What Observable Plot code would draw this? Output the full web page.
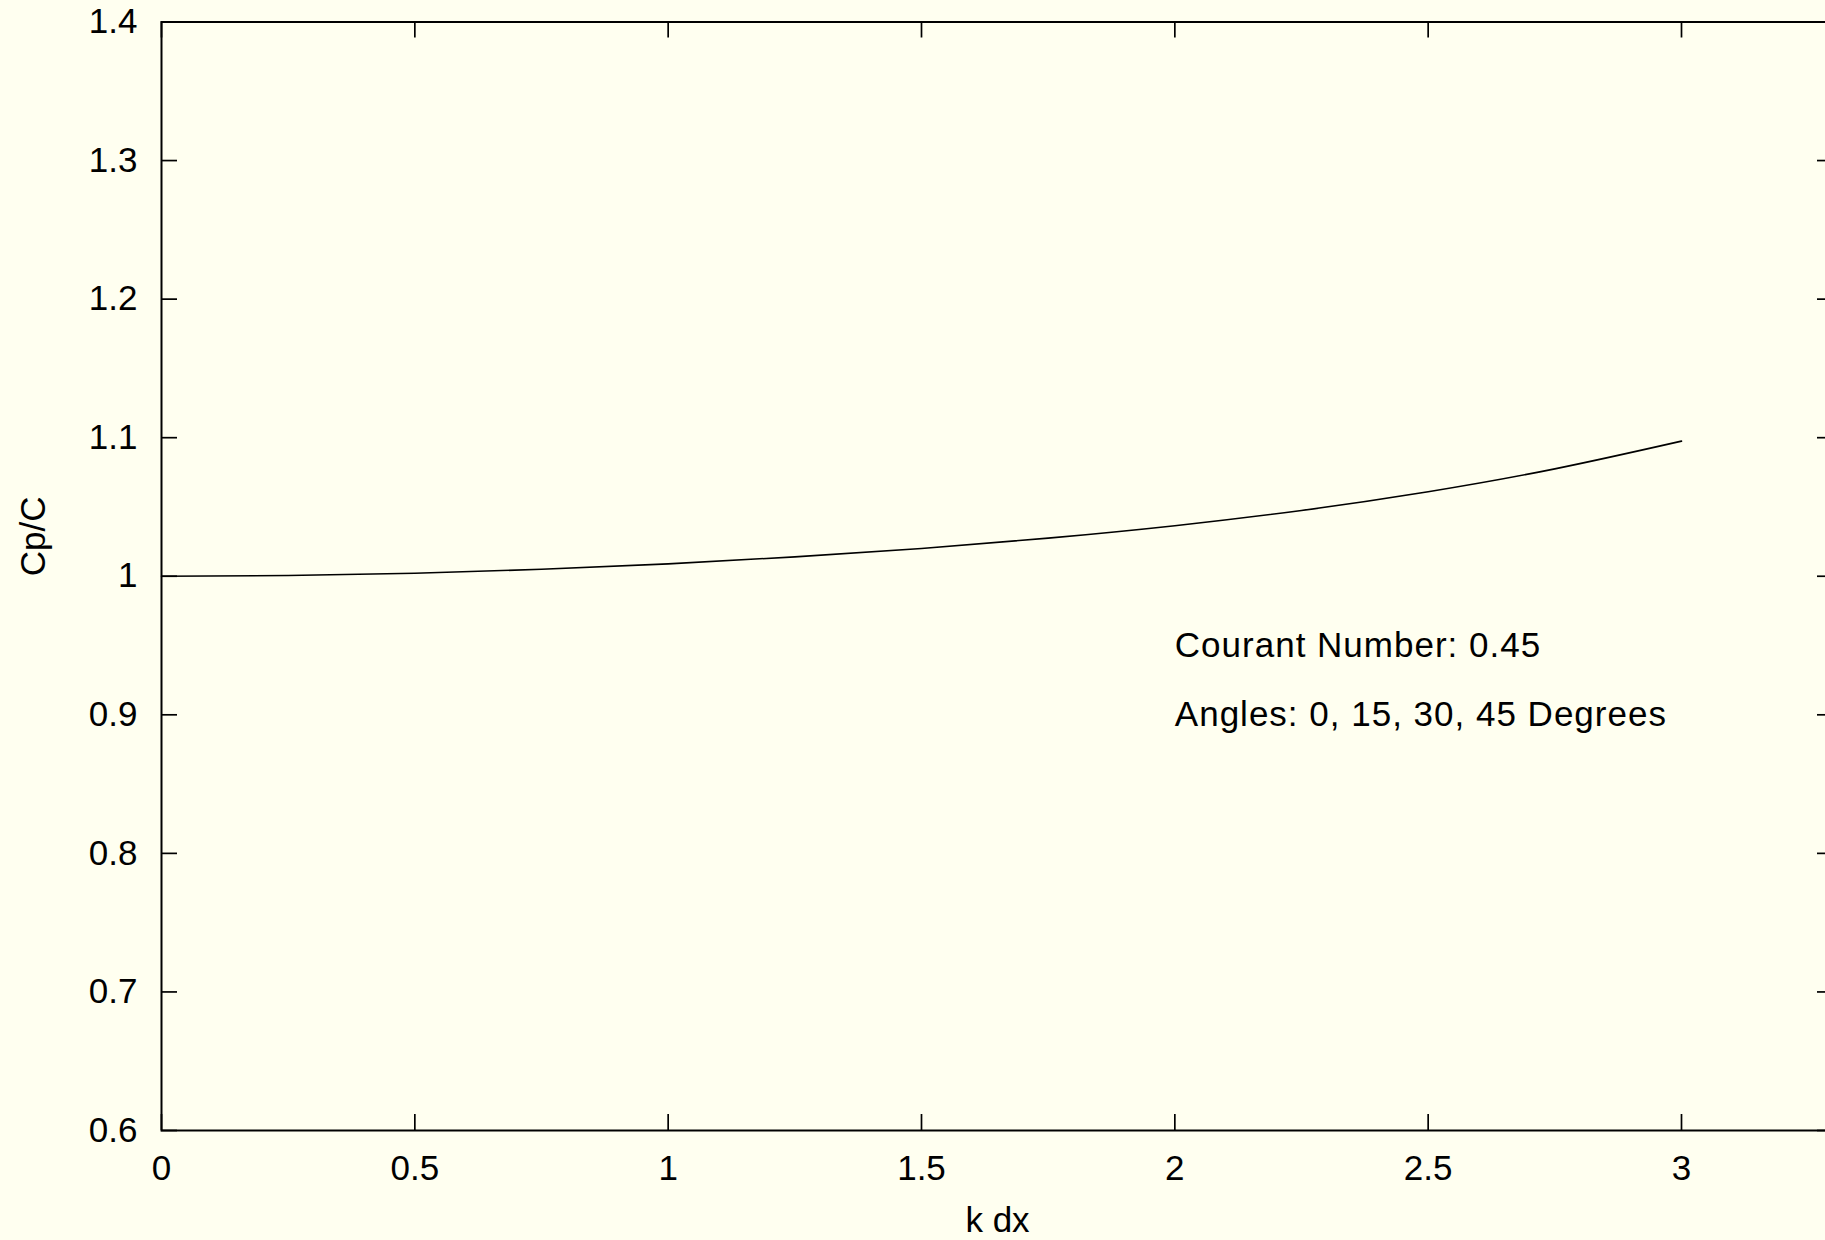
<!DOCTYPE html>
<html>
<head>
<meta charset="utf-8">
<script src="https://cdn.jsdelivr.net/npm/d3@7"></script>
<script src="https://cdn.jsdelivr.net/npm/@observablehq/plot@0.6"></script>
<style>
  html, body { margin: 0; padding: 0; background: #fffff0; overflow: hidden; width: 1825px; height: 1240px; }
  #chart { width: 1825px; height: 1240px; overflow: hidden; }
  #chart svg { display: block; max-width: none !important; }
  .note text { letter-spacing: 1px; }
</style>
</head>
<body>
<div id="chart"></div>
<script>
// Data
const kdx  = [0, 0.25, 0.5, 0.75, 1.0, 1.25, 1.5, 1.75, 2.0, 2.25, 2.5, 2.75, 3.0];
const cpc  = [1.0, 1.0005, 1.0022, 1.005, 1.0089, 1.014, 1.02, 1.0275, 1.0365, 1.0475, 1.061, 1.0775, 1.0975];
const xTicks = [0, 0.5, 1, 1.5, 2, 2.5, 3];
const yTicks = [0.6, 0.7, 0.8, 0.9, 1.0, 1.1, 1.2, 1.3, 1.4];
const xLabel = "k dx";
const yLabel = "Cp/C";
const noteX = [2.0, 2.0];
const noteY = [0.95, 0.90];
const noteText = ["Courant Number: 0.45", "Angles: 0, 15, 30, 45 Degrees"];

const rows = kdx.map((x, i) => ({x, y: cpc[i]}));
const notes = noteText.map((t, i) => ({x: noteX[i], y: noteY[i], t}));

const W = 1833, H = 1240, mL = 161, mR = 0, mT = 21.5, mB = 110;
const fw = W - mL - mR, fh = H - mT - mB, tk = 16;

const chart = Plot.plot({
  width: W, height: H,
  marginLeft: mL, marginRight: mR, marginTop: mT, marginBottom: mB,
  x: {domain: [0, 3.3]},
  y: {domain: [0.6, 1.4]},
  style: {background: "#fffff0", fontFamily: "'Liberation Sans', Arial, sans-serif", fontSize: "35px", color: "black", maxWidth: "none"},
  marks: [
    Plot.axisX({ticks: xTicks, tickSize: 0, tickPadding: 25, label: null, tickFormat: d => String(d)}),
    Plot.axisY({ticks: yTicks, tickSize: 0, tickPadding: 24, label: null, tickFormat: d => String(+d.toFixed(1))}),
    Plot.tickX(xTicks, {x: d => d, insetTop: fh - tk, stroke: "black", strokeWidth: 1.7}),
    Plot.tickX(xTicks, {x: d => d, insetBottom: fh - tk, stroke: "black", strokeWidth: 1.7}),
    Plot.tickY(yTicks, {y: d => d, insetRight: fw - tk, stroke: "black", strokeWidth: 1.7}),
    Plot.tickY(yTicks, {y: d => d, insetLeft: fw - tk, stroke: "black", strokeWidth: 1.7}),
    Plot.frame({stroke: "black", strokeWidth: 2}),
    Plot.line(rows, {x: "x", y: "y", stroke: "black", strokeWidth: 1.6, curve: "natural"}),
    Plot.text(notes, {x: "x", y: "y", text: "t", textAnchor: "start", lineAnchor: "middle", fill: "black", className: "note"}),
    Plot.text([xLabel], {text: d => d, frameAnchor: "bottom", dy: 90, lineAnchor: "middle", fill: "black"}),
    Plot.text([yLabel], {text: d => d, frameAnchor: "left", dx: -128, rotate: -90, lineAnchor: "middle", fill: "black"})
  ]
});
document.getElementById("chart").appendChild(chart);
</script>
</body>
</html>
